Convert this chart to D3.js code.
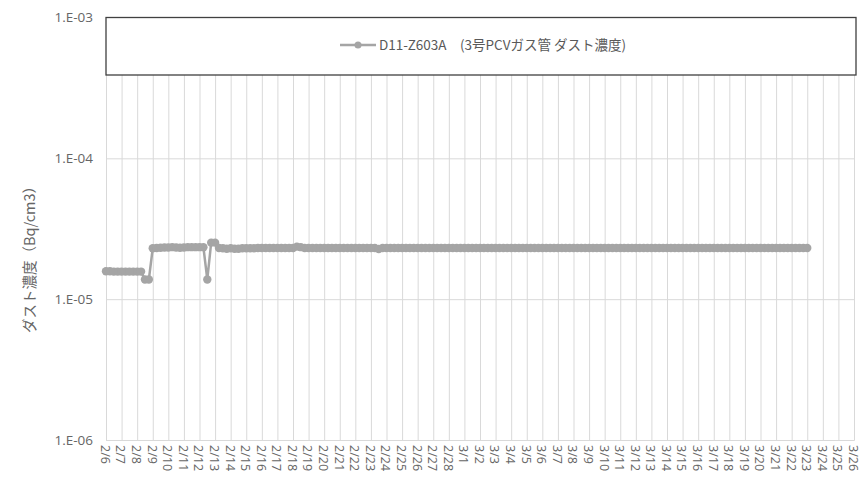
<!DOCTYPE html>
<html>
<head>
<meta charset="utf-8">
<script src="https://cdn.jsdelivr.net/npm/d3@7"></script>
<style>
  html, body { margin: 0; padding: 0; background: #fff; }
  svg { display: block; font-family: "Noto Sans CJK JP", "Noto Sans", sans-serif; }
</style>
</head>
<body>
<svg id="chart" width="861" height="477"></svg>
<script>
// Category labels (days on the x axis)
const dayLabels = ["2/6","2/7","2/8","2/9","2/10","2/11","2/12","2/13","2/14","2/15","2/16","2/17","2/18","2/19","2/20","2/21","2/22","2/23","2/24","2/25","2/26","2/27","2/28","3/1","3/2","3/3","3/4","3/5","3/6","3/7","3/8","3/9","3/10","3/11","3/12","3/13","3/14","3/15","3/16","3/17","3/18","3/19","3/20","3/21","3/22","3/23","3/24","3/25","3/26"];
// Reading times within each day (hours)
const readingHours = [0, 6, 12, 18];
// Dust concentration readings (Bq/cm3), one row per day starting 2/6
const dailyReadings = [
  [1.58e-5, 1.58e-5, 1.57e-5, 1.57e-5], // 2/6
  [1.57e-5, 1.57e-5, 1.57e-5, 1.57e-5], // 2/7
  [1.57e-5, 1.57e-5, 1.38e-5, 1.38e-5], // 2/8
  [2.30e-5, 2.31e-5, 2.32e-5, 2.33e-5], // 2/9
  [2.33e-5, 2.34e-5, 2.33e-5, 2.32e-5], // 2/10
  [2.33e-5, 2.34e-5, 2.34e-5, 2.34e-5], // 2/11
  [2.34e-5, 2.34e-5, 1.38e-5, 2.52e-5], // 2/12
  [2.52e-5, 2.31e-5, 2.30e-5, 2.28e-5], // 2/13
  [2.30e-5, 2.28e-5, 2.28e-5, 2.30e-5], // 2/14
  [2.30e-5, 2.30e-5, 2.30e-5, 2.31e-5], // 2/15
  [2.31e-5, 2.31e-5, 2.31e-5, 2.31e-5], // 2/16
  [2.31e-5, 2.31e-5, 2.31e-5, 2.31e-5], // 2/17
  [2.31e-5, 2.36e-5, 2.34e-5, 2.31e-5], // 2/18
  [2.31e-5, 2.31e-5, 2.31e-5, 2.31e-5], // 2/19
  [2.31e-5, 2.31e-5, 2.31e-5, 2.31e-5], // 2/20
  [2.31e-5, 2.31e-5, 2.31e-5, 2.31e-5], // 2/21
  [2.31e-5, 2.31e-5, 2.31e-5, 2.31e-5], // 2/22
  [2.31e-5, 2.31e-5, 2.27e-5, 2.31e-5], // 2/23
  [2.31e-5, 2.31e-5, 2.31e-5, 2.31e-5], // 2/24
  [2.31e-5, 2.31e-5, 2.31e-5, 2.31e-5], // 2/25
  [2.31e-5, 2.31e-5, 2.31e-5, 2.31e-5], // 2/26
  [2.31e-5, 2.31e-5, 2.31e-5, 2.31e-5], // 2/27
  [2.31e-5, 2.31e-5, 2.31e-5, 2.31e-5], // 2/28
  [2.31e-5, 2.31e-5, 2.31e-5, 2.31e-5], // 3/1
  [2.31e-5, 2.31e-5, 2.31e-5, 2.31e-5], // 3/2
  [2.31e-5, 2.31e-5, 2.31e-5, 2.31e-5], // 3/3
  [2.31e-5, 2.31e-5, 2.31e-5, 2.31e-5], // 3/4
  [2.31e-5, 2.31e-5, 2.31e-5, 2.31e-5], // 3/5
  [2.31e-5, 2.31e-5, 2.31e-5, 2.31e-5], // 3/6
  [2.31e-5, 2.31e-5, 2.31e-5, 2.31e-5], // 3/7
  [2.31e-5, 2.31e-5, 2.31e-5, 2.31e-5], // 3/8
  [2.31e-5, 2.31e-5, 2.31e-5, 2.31e-5], // 3/9
  [2.31e-5, 2.31e-5, 2.31e-5, 2.31e-5], // 3/10
  [2.31e-5, 2.31e-5, 2.31e-5, 2.31e-5], // 3/11
  [2.31e-5, 2.31e-5, 2.31e-5, 2.31e-5], // 3/12
  [2.31e-5, 2.31e-5, 2.31e-5, 2.31e-5], // 3/13
  [2.31e-5, 2.31e-5, 2.31e-5, 2.31e-5], // 3/14
  [2.31e-5, 2.31e-5, 2.31e-5, 2.31e-5], // 3/15
  [2.31e-5, 2.31e-5, 2.31e-5, 2.31e-5], // 3/16
  [2.31e-5, 2.31e-5, 2.31e-5, 2.31e-5], // 3/17
  [2.31e-5, 2.31e-5, 2.31e-5, 2.31e-5], // 3/18
  [2.31e-5, 2.31e-5, 2.31e-5, 2.31e-5], // 3/19
  [2.31e-5, 2.31e-5, 2.31e-5, 2.31e-5], // 3/20
  [2.31e-5, 2.31e-5, 2.31e-5, 2.31e-5], // 3/21
  [2.31e-5, 2.31e-5, 2.31e-5, 2.31e-5], // 3/22
  [2.31e-5]                             // 3/23
];
const yTickValues = [1e-6, 1e-5, 1e-4, 1e-3];
const yTickLabels = ["1.E-06", "1.E-05", "1.E-04", "1.E-03"];
const seriesName = "D11-Z603A\u3000(3号PCVガス管 ダスト濃度)";
const yTitle = "ダスト濃度（Bq/cm3）";

const svg = d3.select("#chart");
const plot = { left: 106, right: 854, top: 17.5, bottom: 440 };
const color = "#A5A5A5";
const gridColor = "#D9D9D9";
const textColor = "#666666";

const x = d3.scaleLinear().domain([0, dayLabels.length - 1]).range([plot.left, plot.right]);
const y = d3.scaleLog().domain([1e-6, 1e-3]).range([plot.bottom, plot.top]);

// points
const points = [];
dailyReadings.forEach((row, d) => {
  row.forEach((v, k) => points.push({ t: d + readingHours[k] / 24, v }));
});

// horizontal gridlines
const yAxis = d3.axisLeft(y).tickValues(yTickValues)
  .tickFormat((d, i) => yTickLabels[i]).tickSize(-(plot.right - plot.left)).tickPadding(13);
const gy = svg.append("g").attr("transform", `translate(${plot.left},0)`).call(yAxis);
gy.select(".domain").remove();
gy.selectAll(".tick line").attr("stroke", gridColor).attr("stroke-width", 1);
gy.selectAll(".tick text").attr("fill", textColor).style("font-size", "13.5px")
  .style("font-family", "'Open Sans', 'Noto Sans', sans-serif");

// vertical gridlines + x labels
const xAxis = d3.axisBottom(x).tickValues(d3.range(dayLabels.length))
  .tickFormat(i => dayLabels[i]).tickSize(-(plot.bottom - plot.top)).tickPadding(4);
const gx = svg.append("g").attr("transform", `translate(0,${plot.bottom})`).call(xAxis);
gx.select(".domain").attr("stroke", gridColor);
gx.selectAll(".tick line").attr("stroke", gridColor).attr("stroke-width", 1);
gx.selectAll(".tick text")
  .attr("fill", textColor).style("font-size", "12.5px")
  .style("font-family", "'Open Sans', 'Noto Sans', sans-serif")
  .attr("text-anchor", "start")
  .attr("transform", "rotate(90)")
  .attr("x", 5).attr("y", 0).attr("dy", "0.45em");

// legend box (covers the top of the grid)
svg.append("rect")
  .attr("x", plot.left).attr("y", plot.top)
  .attr("width", 856 - plot.left).attr("height", 75 - plot.top)
  .attr("fill", "#fff").attr("stroke", "#404040").attr("stroke-width", 1.3);

const lg = svg.append("g").attr("transform", "translate(340,45)");
lg.append("line").attr("x1", 0).attr("x2", 36).attr("y1", 0).attr("y2", 0)
  .attr("stroke", color).attr("stroke-width", 2.5);
lg.append("circle").attr("cx", 18).attr("cy", 0).attr("r", 3.5).attr("fill", color);
lg.append("text").attr("x", 39).attr("y", 0).attr("dy", "0.35em")
  .attr("fill", "#595959").style("font-size", "13.5px").text(seriesName);

// series line
const line = d3.line().x(d => x(d.t)).y(d => y(d.v));
svg.append("path").datum(points).attr("d", line)
  .attr("fill", "none").attr("stroke", color).attr("stroke-width", 2.5)
  .attr("stroke-linejoin", "round");
svg.append("g").selectAll("circle").data(points).join("circle")
  .attr("cx", d => x(d.t)).attr("cy", d => y(d.v)).attr("r", 4.2).attr("fill", color);

// y axis title
svg.append("text")
  .attr("transform", "translate(35,256) rotate(-90)")
  .attr("text-anchor", "middle").attr("fill", textColor)
  .style("font-size", "14.5px").text(yTitle);
</script>
</body>
</html>
